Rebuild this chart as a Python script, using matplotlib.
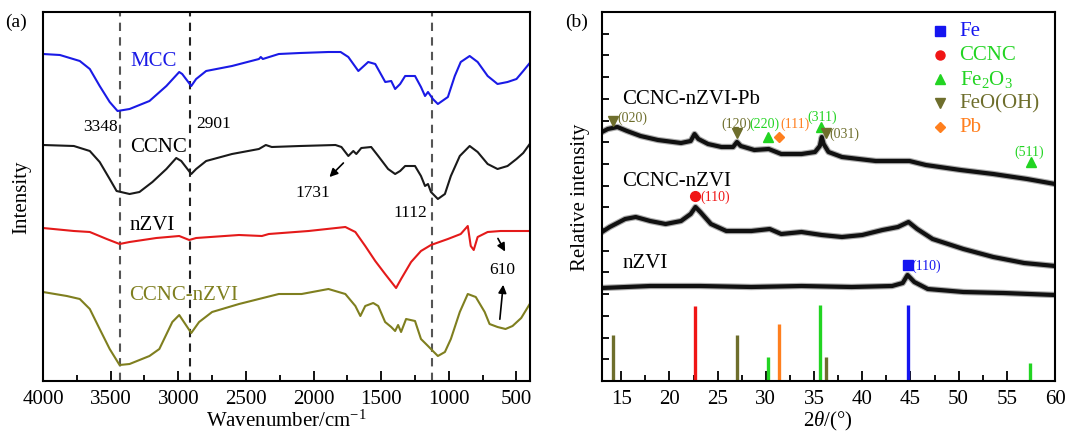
import numpy as np
import matplotlib
matplotlib.use("Agg")
import matplotlib.pyplot as plt
from matplotlib.ticker import MultipleLocator

plt.rcParams['font.family'] = ['Liberation Serif', 'DejaVu Serif']
plt.rcParams['mathtext.fontset'] = 'custom'
plt.rcParams['mathtext.rm'] = 'Liberation Serif'
plt.rcParams['mathtext.it'] = 'Liberation Serif:italic'

# ---- (a) FTIR spectra, offset intensity (arb. units) ----
mcc_w = [4000, 3875, 3728, 3654, 3581, 3507, 3449, 3360, 3213, 3088, 2993, 2971, 2904, 2868, 2794,
         2603, 2404, 2390, 2375, 2257, 2100, 1890, 1800, 1743, 1669, 1596, 1544, 1470, 1426, 1397,
         1360, 1323, 1250, 1206, 1176, 1154, 1118, 1081, 1007, 956, 912, 846, 787, 713, 640,
         566, 500, 450, 402]
mcc_i = [327, 326, 320, 312, 295, 279, 270, 272, 280, 295, 309, 307, 295, 302, 310,
         315, 322, 324, 322, 327, 328, 329, 329, 324, 310, 319, 317, 299, 300, 292,
         297, 305, 305, 294, 285, 289, 282, 277, 284, 305, 319, 325, 319, 305, 297,
         299, 302, 310, 318]

ccnc_w = [4000, 3772, 3654, 3581, 3507, 3456, 3360, 3287, 3191, 3088, 3015, 2978, 2904, 2868, 2794,
          2603, 2404, 2353, 2309, 2100, 1838, 1794, 1743, 1706, 1684, 1647, 1574, 1522, 1449, 1397,
          1360, 1323, 1250, 1206, 1176, 1154, 1132, 1081, 1029, 985, 919, 846, 787, 713, 640,
          566, 500, 450, 402]
ccnc_i = [236, 235, 230, 219, 202, 190, 187, 189, 199, 212, 223, 220, 207, 212, 220,
          227, 232, 236, 234, 235, 236, 234, 225, 230, 227, 233, 234, 225, 212, 207,
          210, 215, 215, 205, 195, 197, 189, 182, 187, 205, 225, 235, 229, 217, 212,
          215, 222, 228, 237]

nzvi_w = [4000, 3772, 3654, 3529, 3434, 3360, 3162, 2993, 2919, 2868, 2551, 2382, 2331, 2037, 1765,
          1691, 1618, 1544, 1471, 1390, 1353, 1279, 1206, 1132, 1007, 912, 860, 838, 816, 787,
          713, 618, 529, 402]
nzvi_i = [153, 150, 149, 142, 137, 139, 143, 145, 141, 143, 146, 145, 147, 150, 154,
          149, 135, 120, 107, 93, 102, 119, 130, 136, 142, 147, 155, 135, 131, 144,
          149, 150, 150, 150]

cn_w = [4000, 3824, 3728, 3654, 3581, 3507, 3434, 3360, 3213, 3140, 3044, 2993, 2904, 2846, 2750,
        2551, 2404, 2257, 2088, 1890, 1765, 1691, 1654, 1618, 1559, 1522, 1471, 1426, 1397, 1375,
        1353, 1316, 1250, 1206, 1154, 1118, 1081, 1029, 985, 919, 860, 801, 735, 699, 640,
        581, 529, 465, 402]
cn_i = [89, 85, 82, 72, 52, 32, 16, 17, 25, 32, 59, 66, 48, 59, 69,
        77, 82, 87, 87, 92, 87, 75, 65, 75, 78, 75, 59, 54, 50, 56,
        49, 62, 60, 42, 35, 30, 25, 29, 42, 69, 87, 84, 69, 57, 54,
        52, 55, 63, 77]

band_lines = [3434, 2912, 1125]

# ---- (b) XRD patterns ----
pb_t = [13.0, 13.6, 14.6, 15.6, 17.0, 18.8, 21.2, 22.2, 22.6, 23.0, 24.0, 25.4, 26.6, 27.0, 27.4,
        28.8, 30.3, 31.6, 33.7, 35.1, 35.6, 35.8, 36.0, 36.5, 37.9, 41.4, 44.9, 46.6, 50.2, 53.6,
        57.1, 60.0]
pb_i = [249, 252, 254, 250, 245, 241, 238, 240, 247, 242, 237, 234, 234, 239, 235,
        231, 232, 227, 227, 229, 235, 244, 237, 229, 224, 220, 220, 216, 211, 207,
        202, 197]

cn_t = [13.0, 13.8, 15.4, 16.5, 18.0, 19.6, 21.2, 22.2, 22.7, 23.2, 24.3, 25.9, 28.5, 30.4, 31.6,
        33.7, 35.8, 37.9, 40.0, 42.1, 43.7, 44.8, 45.7, 47.3, 50.5, 53.6, 56.8, 60.0]
cn_xi = [149, 154, 162, 164, 160, 157, 160, 167, 174, 169, 157, 150, 150, 152, 147,
         149, 146, 144, 146, 151, 154, 159, 152, 142, 132, 124, 118, 115]

nz_t = [13.0, 18.0, 23.2, 28.5, 33.7, 38.9, 43.1, 44.2, 44.7, 45.4, 46.8, 50.5, 54.7, 60.0]
nz_i = [93, 95, 95, 94, 95, 94, 95, 98, 106, 99, 92, 89, 88, 86]

# reference stick patterns
ref_t = [14.1, 22.7, 27.0, 30.2, 31.4, 35.6, 36.2, 44.7, 57.4]
ref_h = [46, 75, 46, 24, 57, 76, 24, 76, 18]
ref_phase = ['FeO(OH)', 'CCNC', 'FeO(OH)', 'Fe2O3', 'Pb', 'Fe2O3', 'FeO(OH)', 'Fe', 'Fe2O3']

phase_color = {'Fe': '#1515f0', 'CCNC': '#f01515', 'Fe2O3': '#22d422',
               'FeO(OH)': '#6e6e2c', 'Pb': '#ff7f1e'}
phase_marker = {'Fe': 's', 'CCNC': 'o', 'Fe2O3': '^', 'FeO(OH)': 'v', 'Pb': 'D'}
legend_names = ['Fe', 'CCNC', 'Fe2O3', 'FeO(OH)', 'Pb']
legend_text = ['Fe', 'CCNC', 'Fe$_2$O$_3$', 'FeO(OH)', 'Pb']
legend_text_color = ['#1515f0', '#22d422', '#22d422', '#6e6e2c', '#ff7f1e']

# peak markers and their hkl labels
pk_t = [14.15, 27.0, 30.27, 31.4, 35.7, 36.2, 57.5, 22.7, 44.7]
pk_h = [260, 248, 244, 244, 254, 248, 219, 185, 116]
pk_phase = ['FeO(OH)', 'FeO(OH)', 'Fe2O3', 'Pb', 'Fe2O3', 'FeO(OH)', 'Fe2O3', 'CCNC', 'Fe']
pk_hkl = ['(020)', '(120)', '(220)', '(111)', '(311)', '(031)', '(511)', '(110)', '(110)']
pk_lab_t = [14.6, 27.0, 29.85, 31.55, 35.8, 36.6, 57.3, 23.2, 45.1]
pk_lab_h = [264, 258, 258, 258, 265, 248, 230, 185, 116]
pk_lab_ha = ['left', 'center', 'center', 'left', 'center', 'left', 'center', 'left', 'left']

fig = plt.figure(figsize=(10.67, 4.35), dpi=100)
W, H = 1067.0, 435.0
ax1 = fig.add_axes([43 / W, 53 / H, 487 / W, 369 / H])
ax2 = fig.add_axes([602 / W, 53 / H, 453 / W, 369 / H])

# ---------------- panel (a)
for x in band_lines:
    ax1.axvline(x, color='#555555' if x != 2912 else '#222222', lw=1.5, ls=(0, (4, 3)), zorder=1)
ax1.plot(mcc_w, mcc_i, color='#1a1ae6', lw=1.5)
ax1.plot(ccnc_w, ccnc_i, color='#1a1a1a', lw=1.5)
ax1.plot(nzvi_w, nzvi_i, color='#e41a1a', lw=1.5)
ax1.plot(cn_w, cn_i, color='#7f7f1f', lw=1.5)
ax1.set_xlim(4000, 400)
ax1.set_ylim(0, 369)
ax1.xaxis.set_major_locator(MultipleLocator(500))
ax1.xaxis.set_minor_locator(MultipleLocator(250))
ax1.tick_params(axis='x', which='both', direction='in', labelsize=15, pad=6)
ax1.tick_params(axis='x', which='major', length=7, width=1.3)
ax1.tick_params(axis='x', which='minor', length=4, width=1.3)
ax1.set_yticks([])
for s in ax1.spines.values():
    s.set_linewidth(1.5)

fs = 15
ax1.text(3353, 320, 'MCC', color='#1a1ae6', fontsize=fs, va='center')
ax1.text(3449, 255, '3348', fontsize=12.5, ha='right', va='center')
ax1.text(2868, 258, '2901', fontsize=12.5, ha='left', va='center')
ax1.text(3353, 234, 'CCNC', fontsize=fs, va='center')
ax1.text(2007, 189, '1731', fontsize=12.5, ha='center', va='center')
ax1.annotate('', xy=(1897, 202), xytext=(1765, 220),
             arrowprops=dict(arrowstyle='-|>', color='black', lw=1.2, mutation_scale=12))
ax1.text(1162, 169, '1112', fontsize=12.5, ha='right', va='center')
ax1.text(3360, 156, 'nZVI', fontsize=fs, va='center')
ax1.text(3360, 87, 'CCNC-nZVI', color='#7f7f1f', fontsize=fs, va='center')
ax1.text(603, 112, '610', fontsize=12.5, ha='center', va='center')
ax1.annotate('', xy=(574, 127), xytext=(647, 145),
             arrowprops=dict(arrowstyle='-|>', color='black', lw=1.2, mutation_scale=12))
ax1.annotate('', xy=(596, 99), xytext=(625, 59),
             arrowprops=dict(arrowstyle='-|>', color='black', lw=1.2, mutation_scale=12))

# ---------------- panel (b)
for t, h in [(pb_t, pb_i), (cn_t, cn_xi), (nz_t, nz_i)]:
    ax2.plot(t, h, color='#777777', lw=4.6, alpha=0.6, solid_joinstyle='round')
    ax2.plot(t, h, color='#111111', lw=3.0, solid_joinstyle='round')

for t, h, p in zip(ref_t, ref_h, ref_phase):
    ax2.vlines(t, 0, h, color=phase_color[p], lw=2.4)

for t, h, p, hkl, lt, lh, ha in zip(pk_t, pk_h, pk_phase, pk_hkl, pk_lab_t, pk_lab_h, pk_lab_ha):
    ms = 5.5 if p == 'Pb' else 7
    ax2.plot(t, h, marker=phase_marker[p], color=phase_color[p], ms=ms, ls='none')
    ax2.text(lt, lh, hkl, color=phase_color[p], fontsize=10, ha=ha, va='center')

leg_h = [350, 326, 302, 278, 254]
for name, txt, tc, h in zip(legend_names, legend_text, legend_text_color, leg_h):
    ms = 5 if name == 'Pb' else 6.5
    ax2.plot(48.1, h, marker=phase_marker[name], color=phase_color[name], ms=ms, ls='none')
    ax2.text(50.1, h, txt, color=tc, fontsize=fs, va='center')

ax2.text(15.1, 282, 'CCNC-nZVI-Pb', fontsize=fs, va='center')
ax2.text(15.1, 200, 'CCNC-nZVI', fontsize=fs, va='center')
ax2.text(15.1, 119, 'nZVI', fontsize=fs, va='center')

ax2.set_xlim(13, 60)
ax2.set_ylim(0, 369)
ax2.xaxis.set_major_locator(MultipleLocator(5))
ax2.xaxis.set_minor_locator(MultipleLocator(2.5))
ax2.yaxis.set_major_locator(MultipleLocator(369 / 17.0))
ax2.tick_params(axis='x', which='both', direction='in', labelsize=15, pad=6)
ax2.tick_params(axis='x', which='major', length=7, width=1.3)
ax2.tick_params(axis='x', which='minor', length=4, width=1.3)
ax2.tick_params(axis='y', which='major', direction='in', length=5, width=1.3, labelleft=False)
for s in ax2.spines.values():
    s.set_linewidth(1.5)

fig.text(5 / W, 1 - 22 / H, '(a)', fontsize=14, va='center')
fig.text(565 / W, 1 - 22 / H, '(b)', fontsize=14, va='center')
fig.text(22 / W, 1 - 197 / H, 'Intensity', fontsize=fs, rotation=90, ha='center', va='center')
fig.text(580 / W, 1 - 197 / H, 'Relative intensity', fontsize=fs, rotation=90, ha='center', va='center')
fig.text(286 / W, 1 - 421 / H, 'Wavenumber/cm$^{-1}$', fontsize=fs, ha='center', va='center')
fig.text(828 / W, 1 - 421 / H, '2$\\theta$/(°)', fontsize=fs, ha='center', va='center')

fig.savefig('out.png', dpi=100)
